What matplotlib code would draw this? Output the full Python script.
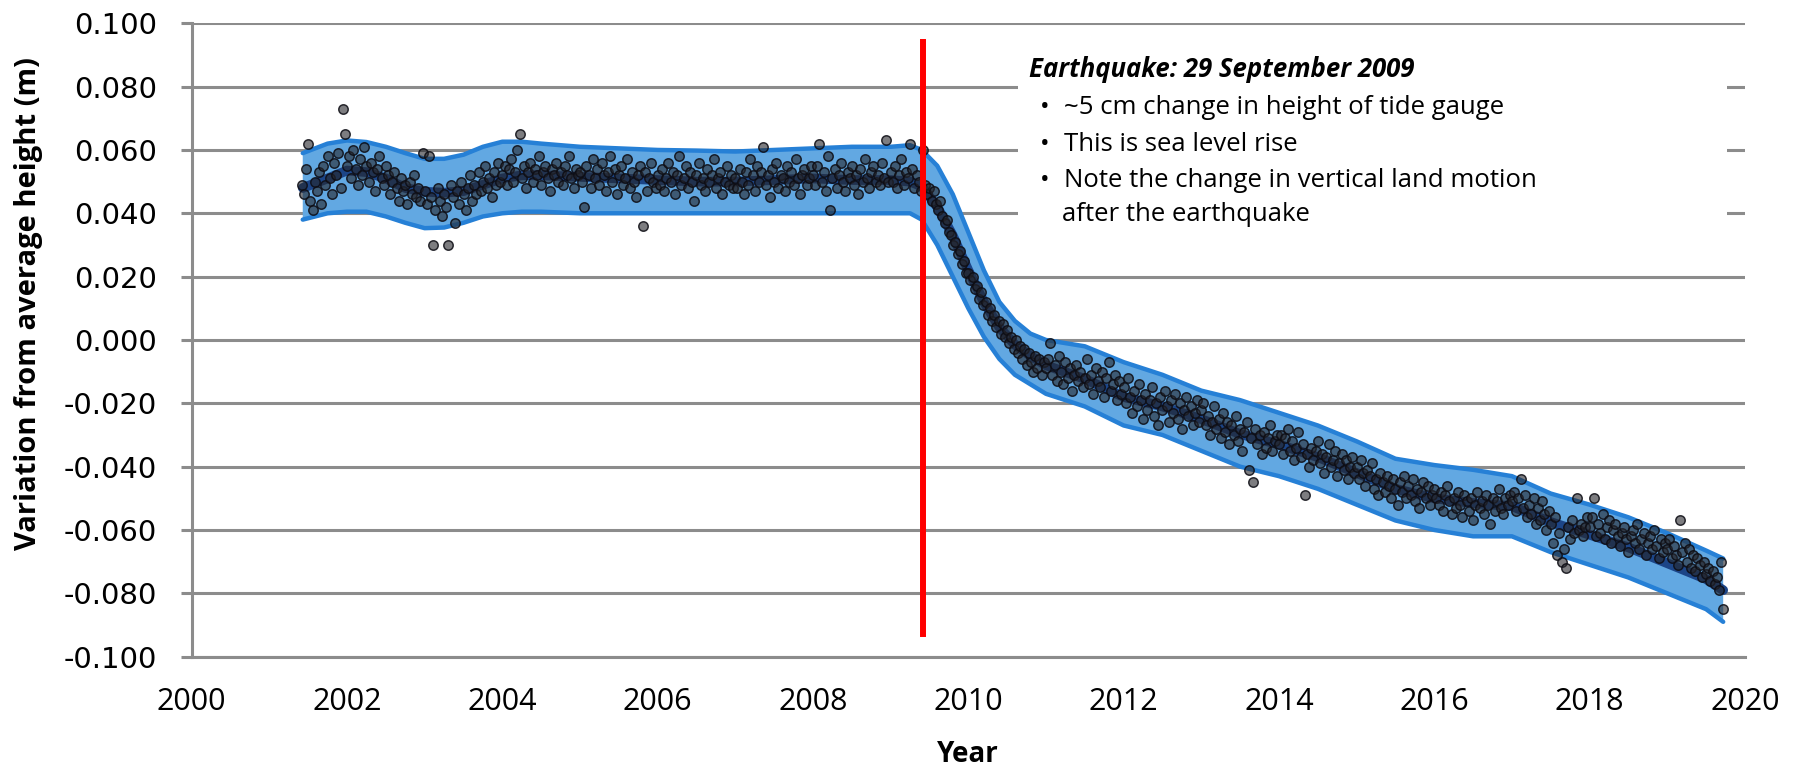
import numpy as np
import matplotlib
matplotlib.use("Agg")
import matplotlib.pyplot as plt
from matplotlib.patches import Rectangle

# ---------------- data ----------------
x_ticks = [2000, 2002, 2004, 2006, 2008, 2010, 2012, 2014, 2016, 2018, 2020]
y_ticks = [-0.100, -0.080, -0.060, -0.040, -0.020, 0.000, 0.020, 0.040, 0.060, 0.080, 0.100]

# observations, ~every 10 days (36 per year); 2001 starts at 2001.42
obs_2001 = [0.049, 0.046, 0.054, 0.062, 0.044, 0.041, 0.050, 0.047, 0.053, 0.043, 0.055,
            0.049, 0.058, 0.051, 0.046, 0.056, 0.052, 0.059, 0.048, 0.073, 0.065]
obs_2002 = [0.055, 0.058, 0.051, 0.060, 0.054, 0.049, 0.057, 0.052, 0.061, 0.055, 0.050, 0.056,
            0.053, 0.047, 0.054, 0.058, 0.051, 0.049, 0.055, 0.052, 0.046, 0.050, 0.053, 0.048,
            0.044, 0.051, 0.047, 0.049, 0.043, 0.050, 0.046, 0.052, 0.045, 0.048, 0.044, 0.059]
obs_2003 = [0.047, 0.043, 0.058, 0.045, 0.030, 0.041, 0.048, 0.044, 0.039, 0.046, 0.042, 0.030,
            0.049, 0.045, 0.037, 0.047, 0.043, 0.050, 0.046, 0.041, 0.048, 0.052, 0.044, 0.049,
            0.046, 0.053, 0.047, 0.050, 0.055, 0.048, 0.051, 0.045, 0.053, 0.049, 0.056, 0.050]
obs_2004 = [0.052, 0.055, 0.049, 0.054, 0.057, 0.050, 0.053, 0.060, 0.065, 0.051, 0.055, 0.048,
            0.053, 0.056, 0.050, 0.054, 0.052, 0.058, 0.049, 0.053, 0.055, 0.051, 0.047, 0.054,
            0.052, 0.056, 0.050, 0.053, 0.049, 0.055, 0.052, 0.058, 0.051, 0.048, 0.054, 0.052]
obs_2005 = [0.053, 0.050, 0.042, 0.055, 0.052, 0.048, 0.057, 0.051, 0.054, 0.049, 0.056, 0.052,
            0.047, 0.053, 0.058, 0.050, 0.054, 0.046, 0.052, 0.055, 0.049, 0.051, 0.057, 0.048,
            0.053, 0.050, 0.045, 0.052, 0.055, 0.036, 0.053, 0.047, 0.051, 0.056, 0.050, 0.048]
obs_2006 = [0.052, 0.049, 0.054, 0.047, 0.051, 0.056, 0.050, 0.053, 0.046, 0.052, 0.058, 0.049,
            0.051, 0.055, 0.048, 0.053, 0.050, 0.044, 0.052, 0.056, 0.049, 0.051, 0.047, 0.054,
            0.050, 0.052, 0.057, 0.048, 0.051, 0.053, 0.046, 0.050, 0.055, 0.049, 0.052, 0.048]
obs_2007 = [0.051, 0.048, 0.054, 0.050, 0.046, 0.053, 0.049, 0.057, 0.052, 0.047, 0.055, 0.050,
            0.053, 0.061, 0.049, 0.052, 0.045, 0.054, 0.050, 0.056, 0.048, 0.052, 0.051, 0.047,
            0.055, 0.050, 0.053, 0.049, 0.057, 0.051, 0.046, 0.052, 0.054, 0.049, 0.051, 0.055]
obs_2008 = [0.052, 0.049, 0.055, 0.062, 0.050, 0.053, 0.047, 0.058, 0.041, 0.051, 0.054, 0.048,
            0.052, 0.056, 0.050, 0.047, 0.053, 0.051, 0.055, 0.049, 0.052, 0.046, 0.054, 0.050,
            0.057, 0.051, 0.048, 0.053, 0.055, 0.050, 0.052, 0.049, 0.056, 0.051, 0.063, 0.050]
obs_2009 = [0.053, 0.050, 0.055, 0.048, 0.052, 0.057, 0.049, 0.053, 0.051, 0.062, 0.054, 0.048,
            0.052, 0.050, 0.047, 0.060, 0.049, 0.046, 0.048, 0.044, 0.047, 0.043, 0.041, 0.044,
            0.039, 0.037, 0.038, 0.034, 0.033, 0.030, 0.031, 0.027, 0.028, 0.024, 0.025, 0.021]
obs_2010 = [0.021, 0.019, 0.020, 0.016, 0.017, 0.013, 0.015, 0.011, 0.012, 0.008, 0.010, 0.006,
            0.008, 0.004, 0.006, 0.002, 0.005, 0.001, 0.003, -0.001, 0.001, -0.003, 0.000, -0.004,
            -0.002, -0.006, -0.003, -0.008, -0.004, -0.007, -0.010, -0.005, -0.009, -0.006, -0.011, -0.007]
obs_2011 = [-0.009, -0.006, -0.001, -0.011, -0.008, -0.013, -0.005, -0.010, -0.014, -0.007, -0.012, -0.009,
            -0.016, -0.011, -0.008, -0.013, -0.010, -0.015, -0.012, -0.006, -0.014, -0.011, -0.017, -0.009,
            -0.013, -0.015, -0.010, -0.018, -0.012, -0.007, -0.016, -0.014, -0.011, -0.019, -0.013, -0.017]
obs_2012 = [-0.015, -0.020, -0.012, -0.018, -0.023, -0.016, -0.021, -0.014, -0.019, -0.025, -0.017, -0.022,
            -0.019, -0.015, -0.024, -0.020, -0.027, -0.018, -0.022, -0.016, -0.021, -0.026, -0.019, -0.023,
            -0.017, -0.025, -0.020, -0.028, -0.022, -0.018, -0.024, -0.021, -0.027, -0.023, -0.019, -0.026]
obs_2013 = [-0.022, -0.020, -0.027, -0.024, -0.030, -0.026, -0.021, -0.028, -0.025, -0.031, -0.023, -0.029,
            -0.026, -0.033, -0.027, -0.030, -0.024, -0.032, -0.028, -0.035, -0.029, -0.026, -0.041, -0.031,
            -0.045, -0.028, -0.033, -0.030, -0.036, -0.029, -0.034, -0.031, -0.027, -0.035, -0.032, -0.030]
obs_2014 = [-0.033, -0.030, -0.036, -0.031, -0.028, -0.035, -0.032, -0.038, -0.034, -0.029, -0.037, -0.033,
            -0.049, -0.036, -0.040, -0.034, -0.038, -0.035, -0.032, -0.039, -0.036, -0.042, -0.037, -0.033,
            -0.040, -0.038, -0.035, -0.043, -0.039, -0.036, -0.041, -0.038, -0.044, -0.040, -0.037, -0.042]
obs_2015 = [-0.040, -0.044, -0.038, -0.042, -0.046, -0.041, -0.043, -0.039, -0.047, -0.044, -0.049, -0.042,
            -0.045, -0.048, -0.043, -0.046, -0.050, -0.044, -0.047, -0.052, -0.045, -0.048, -0.043, -0.050,
            -0.046, -0.049, -0.044, -0.051, -0.047, -0.053, -0.048, -0.045, -0.050, -0.046, -0.052, -0.049]
obs_2016 = [-0.047, -0.050, -0.052, -0.048, -0.054, -0.049, -0.046, -0.051, -0.055, -0.050, -0.053, -0.048,
            -0.052, -0.056, -0.049, -0.051, -0.054, -0.050, -0.057, -0.052, -0.048, -0.053, -0.051, -0.055,
            -0.049, -0.052, -0.058, -0.050, -0.054, -0.051, -0.047, -0.053, -0.055, -0.050, -0.052, -0.049]
obs_2017 = [-0.051, -0.048, -0.054, -0.050, -0.044, -0.053, -0.049, -0.056, -0.052, -0.055, -0.050, -0.058,
            -0.053, -0.057, -0.051, -0.055, -0.060, -0.054, -0.058, -0.064, -0.056, -0.068, -0.061, -0.070,
            -0.066, -0.072, -0.059, -0.063, -0.057, -0.061, -0.050, -0.060, -0.058, -0.062, -0.059, -0.056]
obs_2018 = [-0.059, -0.056, -0.050, -0.062, -0.058, -0.061, -0.055, -0.063, -0.059, -0.057, -0.064, -0.060,
            -0.058, -0.062, -0.065, -0.061, -0.059, -0.063, -0.067, -0.062, -0.060, -0.064, -0.058, -0.066,
            -0.063, -0.061, -0.068, -0.064, -0.062, -0.066, -0.060, -0.065, -0.069, -0.063, -0.067, -0.064]
obs_2019 = [-0.066, -0.063, -0.069, -0.065, -0.068, -0.071, -0.057, -0.067, -0.064, -0.070, -0.066, -0.072,
            -0.068, -0.073, -0.069, -0.071, -0.075, -0.070, -0.074, -0.072, -0.076, -0.073, -0.077, -0.075,
            -0.079, -0.070, -0.085]

obs_by_year = {2001: obs_2001, 2002: obs_2002, 2003: obs_2003, 2004: obs_2004, 2005: obs_2005,
               2006: obs_2006, 2007: obs_2007, 2008: obs_2008, 2009: obs_2009, 2010: obs_2010,
               2011: obs_2011, 2012: obs_2012, 2013: obs_2013, 2014: obs_2014, 2015: obs_2015,
               2016: obs_2016, 2017: obs_2017, 2018: obs_2018, 2019: obs_2019}
samples_per_year = 36
first_year_offset = 15  # first sample in 2001 is the 16th slot

# smoothed trend and its uncertainty band
trend_years = [2001.43, 2001.75, 2002.0, 2002.25, 2002.5, 2002.75, 2003.0, 2003.25, 2003.5, 2003.75,
               2004.0, 2004.25, 2004.5, 2005.0, 2005.5, 2006.0, 2006.5, 2007.0, 2007.5, 2008.0,
               2008.5, 2009.0, 2009.25, 2009.4, 2009.6, 2009.8, 2010.0, 2010.2, 2010.4, 2010.6,
               2010.8, 2011.0, 2011.5, 2012.0, 2012.5, 2013.0, 2013.5, 2014.0, 2014.5, 2015.0,
               2015.5, 2016.0, 2016.5, 2017.0, 2017.5, 2018.0, 2018.5, 2019.0, 2019.5, 2019.72]
trend = [0.048, 0.051, 0.0535, 0.053, 0.051, 0.048, 0.0468, 0.0465, 0.047, 0.049,
         0.051, 0.052, 0.052, 0.0515, 0.051, 0.0505, 0.050, 0.050, 0.0505, 0.051,
         0.0505, 0.0505, 0.050, 0.0485, 0.042, 0.033, 0.022, 0.012, 0.004, -0.0015,
         -0.005, -0.008, -0.0123, -0.018, -0.021, -0.025, -0.0297, -0.033, -0.037, -0.042,
         -0.047, -0.050, -0.0515, -0.0525, -0.0575, -0.0615, -0.0655, -0.0705, -0.0755, -0.079]
band_upper = [0.059, 0.062, 0.063, 0.0625, 0.061, 0.059, 0.0572, 0.0572, 0.0585, 0.061,
              0.0626, 0.0626, 0.062, 0.061, 0.0605, 0.060, 0.0598, 0.0595, 0.060, 0.0605,
              0.061, 0.061, 0.0615, 0.060, 0.055, 0.046, 0.034, 0.022, 0.012, 0.006,
              0.002, 0.000, -0.002, -0.007, -0.011, -0.016, -0.019, -0.023, -0.027, -0.032,
              -0.0375, -0.0395, -0.041, -0.043, -0.0485, -0.052, -0.056, -0.061, -0.0665, -0.069]
band_lower = [0.038, 0.040, 0.0405, 0.0405, 0.039, 0.037, 0.0353, 0.0355, 0.037, 0.039,
              0.040, 0.0405, 0.0405, 0.040, 0.040, 0.040, 0.040, 0.040, 0.040, 0.040,
              0.040, 0.040, 0.040, 0.038, 0.030, 0.020, 0.010, 0.001, -0.006, -0.011,
              -0.014, -0.017, -0.021, -0.027, -0.030, -0.035, -0.040, -0.043, -0.047, -0.052,
              -0.057, -0.060, -0.062, -0.062, -0.067, -0.071, -0.075, -0.080, -0.085, -0.089]

quake_year = 2009.42
quake_line_span = [0.0942, -0.0929]

note_title = "Earthquake: 29 September 2009"
note_bullets = ["~5 cm change in height of tide gauge",
                "This is sea level rise",
                "Note the change in vertical land motion"]
note_continuation = "after the earthquake"

# ---------------- build arrays ----------------
obs_x, obs_y = [], []
for yr, vals in obs_by_year.items():
    off = first_year_offset if yr == 2001 else 0
    for k, v in enumerate(vals):
        obs_x.append(yr + (k + off) / samples_per_year)
        obs_y.append(v)
obs_x = np.array(obs_x)
obs_y = np.array(obs_y)

# ---------------- plot ----------------
plt.rcParams['axes.unicode_minus'] = False
grid_c = '#8c8c8c'

fig = plt.figure(figsize=(18, 7.73), dpi=100)
ax = fig.add_axes([0.1065, 0.1505, 0.8629, 0.8194])
ax.set_xlim(2000, 2020)
ax.set_ylim(-0.1, 0.1)

ax.set_axisbelow(True)
ax.grid(axis='y', color=grid_c, lw=2.2)
for s in ['top', 'right']:
    ax.spines[s].set_visible(False)
for s in ['left', 'bottom']:
    ax.spines[s].set_color(grid_c)
    ax.spines[s].set_linewidth(2.2)

ax.set_xticks(x_ticks)
ax.set_xticklabels([str(t) for t in x_ticks], family='Open Sans', fontsize=22)
ax.set_yticks(y_ticks)
ax.set_yticklabels([f"{t:.3f}" for t in y_ticks], family='DejaVu Sans', fontsize=21)
ax.tick_params(axis='x', length=0, pad=22)
ax.tick_params(axis='y', length=8, width=2.2, color=grid_c, pad=17)

# white panel behind the note (hides gridlines)
ax.add_patch(Rectangle((2010.64, 0.028), 9.13, 0.064, facecolor='white',
                       edgecolor='none', zorder=1))

# uncertainty band
ax.fill_between(trend_years, band_lower, band_upper, facecolor='#62a8e2',
                edgecolor='none', zorder=2)
ax.plot(trend_years, band_upper, color='#2680d6', lw=3.2, zorder=2.2, solid_capstyle='round')
ax.plot(trend_years, band_lower, color='#2680d6', lw=3.2, zorder=2.2, solid_capstyle='round')

# trend
ax.plot(trend_years, trend, color='#1c4587', lw=7, zorder=3, solid_capstyle='round')

# observations
ax.scatter(obs_x, obs_y, s=46, facecolor=(0.15, 0.15, 0.17, 0.6),
           edgecolor=(0.05, 0.05, 0.08, 0.85), linewidth=1.1, zorder=4)

# earthquake line
ax.plot([quake_year, quake_year], quake_line_span, color='#ff0000', lw=4.3, zorder=5)

# labels
ax.set_ylabel("Variation from average height (m)", family='Open Sans',
              fontweight='bold', fontsize=21)
ax.yaxis.set_label_coords(-0.096, 0.557)
ax.set_xlabel("Year", family='Open Sans', fontweight='bold', fontsize=20)
ax.xaxis.set_label_coords(0.5, -0.132)

# note
ax.text(0.539, 0.9263, note_title, transform=ax.transAxes, family='Open Sans',
        fontweight='bold', fontstyle='italic', fontsize=18.5, va='center', ha='left', zorder=6)
line_ys = [0.8663, 0.8079, 0.7510]
for ly, txt in zip(line_ys, note_bullets):
    ax.text(0.546, ly, "•", transform=ax.transAxes, family='Open Sans', fontsize=18.5,
            va='center', ha='left', zorder=6)
    ax.text(0.5616, ly, txt, transform=ax.transAxes, family='Open Sans', fontsize=18.5,
            va='center', ha='left', zorder=6)
ax.text(0.5603, 0.6974, note_continuation, transform=ax.transAxes, family='Open Sans',
        fontsize=18.5, va='center', ha='left', zorder=6)

fig.savefig("out.png", dpi=100)
